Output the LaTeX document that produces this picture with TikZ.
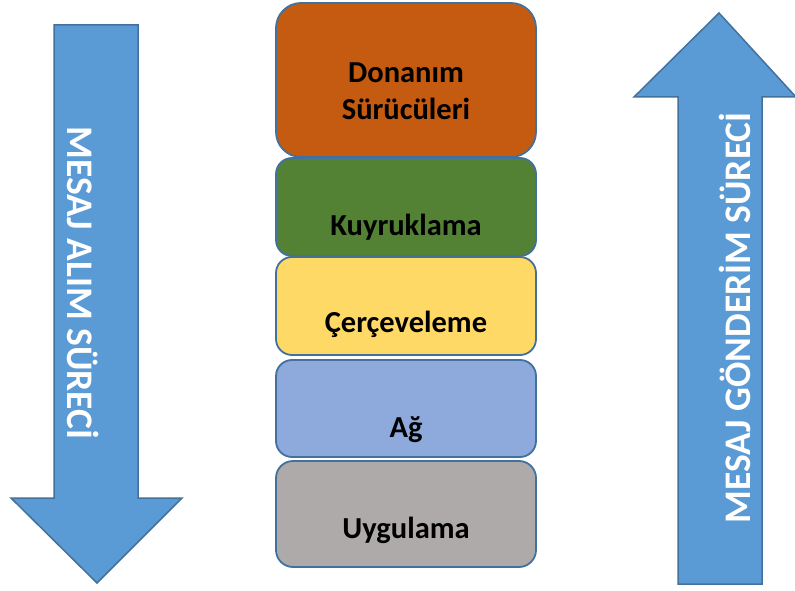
\documentclass[tikz,border=0pt]{standalone}
\usepackage{fontspec}
\setmainfont{Carlito}
\definecolor{edgeblue}{HTML}{41719C}
\definecolor{arrowblue}{HTML}{5B9BD5}
\definecolor{hwfill}{HTML}{C55A11}
\definecolor{queuefill}{HTML}{548235}
\definecolor{framefill}{HTML}{FFD966}
\definecolor{netfill}{HTML}{8EA9DB}
\definecolor{appfill}{HTML}{AEAAAA}
\begin{document}
\begin{tikzpicture}[x=1pt,y=-1pt,
  layerbox/.style={draw=edgeblue, line width=1.8pt, rectangle, minimum width=260pt, inner sep=0pt, outer sep=0pt},
  layertext/.style={font=\fontsize{30.5}{37}\selectfont\bfseries, text=black, anchor=base, align=center, inner sep=0pt},
  flowarrow/.style={draw=edgeblue, line width=1.5pt, fill=arrowblue, line join=miter},
  flowtext/.style={font=\fontsize{37.5}{44}\selectfont\bfseries, text=white, anchor=base, inner sep=0pt}]
  \useasboundingbox (0,0) rectangle (795,591);

  % protocol layers, top to bottom
  \node[layerbox, fill=hwfill, minimum height=154pt, rounded corners=25pt] (hw) at (406,80) {};
  \node[layerbox, fill=queuefill, minimum height=98pt, rounded corners=16pt] (queue) at (406,207) {};
  \node[layerbox, fill=framefill, minimum height=98pt, rounded corners=16pt] (frame) at (406,306) {};
  \node[layerbox, fill=netfill, minimum height=97pt, rounded corners=16pt] (net) at (406,408.5) {};
  \node[layerbox, fill=appfill, minimum height=106pt, rounded corners=17pt] (app) at (406,514) {};

  % labels sit on their baselines (two-line label: base is its last line)
  \node[layertext] (hwlabel) at (406,120) {Donanım\\Sürücüleri};
  \node[layertext] (queuelabel) at (406,235) {Kuyruklama};
  \node[layertext] (framelabel) at (406,332) {Çerçeveleme};
  \node[layertext] (netlabel) at (406,437) {Ağ};
  \node[layertext] (applabel) at (406,538) {Uygulama};

  % receive direction: downward block arrow
  \draw[flowarrow] (54,25) -- (138,25) -- (138,498) -- (182,498) -- (97,583)
    -- (11,498) -- (54,498) -- cycle;
  \node[flowtext, rotate=-90] (recvlabel) at (67,283) {MESAJ ALIM SÜRECİ};

  % send direction: upward block arrow
  \draw[flowarrow] (678,584) -- (762,584) -- (762,97) -- (796,97) -- (719,13)
    -- (634,97) -- (678,97) -- cycle;
  \node[flowtext, rotate=90] (sendlabel) at (750,318) {MESAJ GÖNDERİM SÜRECİ};
\end{tikzpicture}
\end{document}
